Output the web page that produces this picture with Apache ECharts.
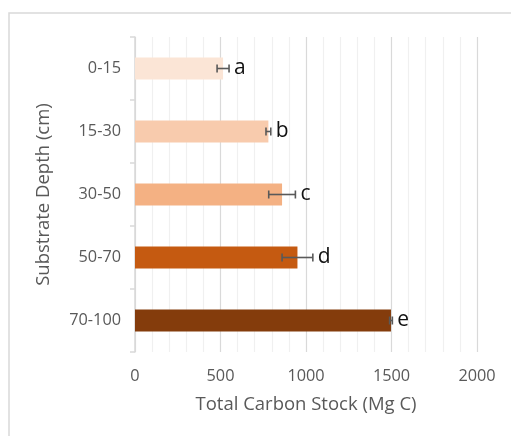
<!DOCTYPE html>
<html>
<head>
<meta charset="utf-8">
<script src="https://cdn.jsdelivr.net/npm/echarts@6/dist/echarts.min.js"></script>
<style>
  html, body { margin: 0; padding: 0; background: #ffffff; }
  #chart { width: 511px; height: 436px; }
</style>
</head>
<body>
<div id="chart"></div>
<script>
// Substrate depth classes and carbon stock (mean ± error)
const depths = ['0-15', '15-30', '30-50', '50-70', '70-100'];
const carbonStock = [515, 780, 860, 950, 1497];
const stockError = [35, 14, 78, 90, 8];
const groupLetters = ['a', 'b', 'c', 'd', 'e'];
const barColors = ['#FBE5D6', '#F8CBAD', '#F4B183', '#C55A11', '#843C0C'];
const xTicks = [0, 500, 1000, 1500, 2000];

const font = '"Open Sans", "Liberation Sans", sans-serif';
const chart = echarts.init(document.getElementById('chart'), null, { renderer: 'canvas' });

const errorData = depths.map((d, i) => [i, carbonStock[i], stockError[i], groupLetters[i]]);

chart.setOption({
  animation: false,
  backgroundColor: '#ffffff',
  graphic: [{
    type: 'rect',
    shape: { x: 9, y: 13, width: 520, height: 460 },
    style: { fill: 'none', stroke: '#d9d9d9', lineWidth: 1.5 },
    silent: true,
    z: -10
  }],
  grid: { left: 135, right: 34, top: 37, bottom: 84, containLabel: false },
  xAxis: {
    type: 'value',
    min: 0,
    max: 2000,
    interval: 100,
    name: 'Total Carbon Stock (Mg C)',
    nameLocation: 'middle',
    nameGap: 43,
    nameTextStyle: { fontFamily: font, fontSize: 18.5, color: '#595959' },
    axisLine: { show: false },
    axisTick: { show: false },
    axisLabel: {
      fontFamily: font, fontSize: 16.3, color: '#595959', margin: 16,
      formatter: v => (xTicks.indexOf(v) >= 0 ? String(v) : '')
    },
    splitLine: {
      show: true,
      lineStyle: {
        width: 1.2,
        color: ['#d9d9d9', '#f0f0f0', '#f0f0f0', '#f0f0f0', '#f0f0f0']
      }
    }
  },
  yAxis: {
    type: 'category',
    data: depths,
    inverse: true,
    name: 'Substrate Depth (cm)',
    nameLocation: 'middle',
    nameGap: 82,
    nameRotate: 90,
    nameTextStyle: { fontFamily: font, fontSize: 18.5, color: '#595959' },
    axisLine: { show: true, lineStyle: { color: '#d9d9d9', width: 1.5 } },
    axisTick: { show: true, inside: false, length: 5, lineStyle: { color: '#d9d9d9', width: 1.5 } },
    axisLabel: { fontFamily: font, fontSize: 16.3, color: '#595959', margin: 14 },
    splitLine: { show: false }
  },
  series: [
    {
      type: 'bar',
      barWidth: 22,
      data: carbonStock.map((v, i) => ({ value: v, itemStyle: { color: barColors[i] } })),
      z: 2
    },
    {
      type: 'custom',
      data: errorData,
      encode: { x: 1, y: 0 },
      z: 5,
      renderItem: function (params, api) {
        const cat = api.value(0);
        const mean = api.value(1);
        const err = api.value(2);
        const letter = groupLetters[cat];
        const lo = api.coord([mean - err, cat]);
        const hi = api.coord([mean + err, cat]);
        const y = lo[1];
        const cap = 4;
        const style = { stroke: '#595959', lineWidth: 1.6, fill: 'none' };
        return {
          type: 'group',
          children: [
            { type: 'line', shape: { x1: lo[0], y1: y, x2: hi[0], y2: y }, style: style },
            { type: 'line', shape: { x1: lo[0], y1: y - cap, x2: lo[0], y2: y + cap }, style: style },
            { type: 'line', shape: { x1: hi[0], y1: y - cap, x2: hi[0], y2: y + cap }, style: style },
            {
              type: 'text',
              x: hi[0] + 5,
              y: y,
              style: {
                text: letter,
                fontFamily: font,
                fontSize: 21,
                fill: '#111111',
                align: 'left',
                verticalAlign: 'middle'
              }
            }
          ]
        };
      }
    }
  ]
});
</script>
</body>
</html>
